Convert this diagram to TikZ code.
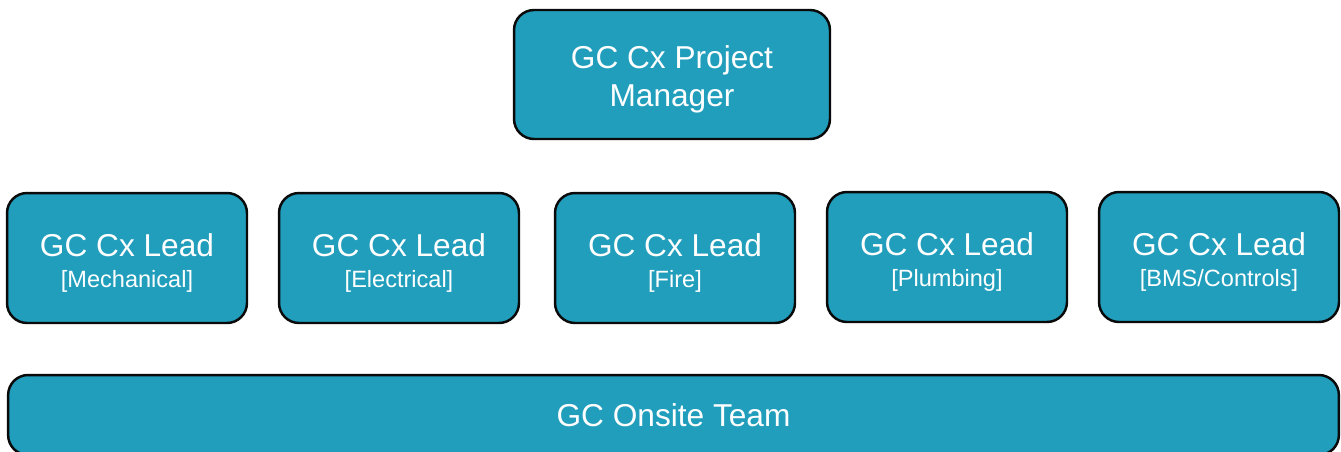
\documentclass[tikz,border=0pt]{standalone}
\usepackage{fontspec}
\setmainfont{Liberation Sans}
\usepackage{tikz}
\usetikzlibrary{positioning}
\definecolor{cxteal}{HTML}{219EBC}
\definecolor{cxline}{HTML}{0A0A0A}
\newcommand{\rolefont}{\fontsize{18}{22}\selectfont}
\newcommand{\tradefont}{\fontsize{13.4}{16}\selectfont}
% taller first line, pushes two-line text a bit down
\newcommand{\capstrut}{\rule{0pt}{18.6pt}}
\tikzset{
  rolebox/.style={
    rectangle, rounded corners=0.4cm, draw=cxline, fill=cxteal,
    line width=1.4pt, text=white, align=center,
    minimum width=#1, minimum height=2.6cm, inner sep=2pt,
    font=\rolefont
  },
  rolebox/.default=4.8cm,
}

\begin{document}
\begin{tikzpicture}[x=0.02cm, y=-0.02cm]
  \useasboundingbox (0,0) rectangle (1341,451);
  \clip (0,0) rectangle (1341,451);

  % Project manager on top
  \node[rolebox=6.32cm, minimum height=2.58cm] (pm) at (672,74.5)
    {\capstrut GC Cx Project\\Manager};

  % One lead per trade
  \node[rolebox] (mech) at (127,258)
    {\capstrut GC Cx Lead\\[-4pt]{\tradefont [Mechanical]}};
  \node[rolebox] (elec) at (399,258)
    {\capstrut GC Cx Lead\\[-4pt]{\tradefont [Electrical]}};
  \node[rolebox] (fire) at (675,258)
    {\capstrut GC Cx Lead\\[-4pt]{\tradefont [Fire]}};
  \node[rolebox] (plmb) at (947,257)
    {\capstrut GC Cx Lead\\[-4pt]{\tradefont [Plumbing]}};
  \node[rolebox] (bms) at (1219,257)
    {\capstrut GC Cx Lead\\[-4pt]{\tradefont [BMS/Controls]}};

  % Site team across the bottom
  \node[rolebox=26.62cm, minimum height=1.6cm] (team) at (673.5,415)
    {GC Onsite Team};
\end{tikzpicture}
\end{document}
